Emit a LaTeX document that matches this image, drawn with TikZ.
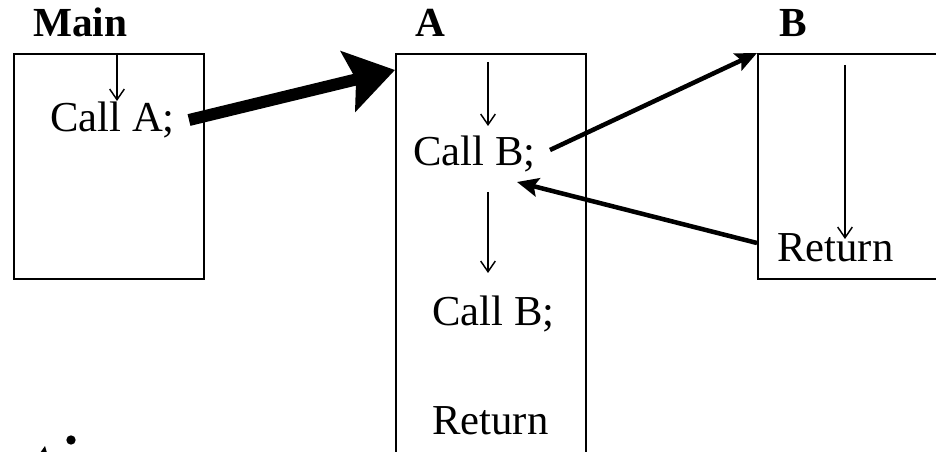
\documentclass[tikz,border=0pt]{standalone}
\usepackage{fontspec}
\setmainfont{Liberation Serif}
\usetikzlibrary{arrows.meta,calc}
\begin{document}
\begin{tikzpicture}[x=0.75pt,y=-0.75pt,
  box/.style={draw,line width=1.6pt,inner sep=0,anchor=north west,minimum width=142.5pt},
  txt/.style={inner sep=0,anchor=base west,font=\fontsize{32}{38}\selectfont},
  lbl/.style={inner sep=0,anchor=base west,font=\fontsize{31}{37}\selectfont\bfseries},
  thin/.style={line width=1.1pt,-{Straight Barb[length=8pt,width=11pt]}},
  mid/.style={line width=3.4pt,-{Stealth[length=16pt,width=14pt,inset=3pt]}},
  thick/.style={line width=9pt,-{Stealth[length=36pt,width=46pt,inset=6pt]}}]
\clip (0,0) rectangle (936,452);
\fill[white] (0,0) rectangle (936,452);
% boxes
\node[box,minimum height=168.75pt] (mainbox) at (13,53) {};
\node[box,minimum height=360pt] (abox) at (395,53) {};
\node[box,minimum width=160pt,minimum height=168.75pt] (bbox) at (757,53) {};
% labels
\node[lbl] (mainlbl) at (33,37) {Main};
\node[lbl] (albl) at (415,37) {A};
\node[lbl] (blbl) at (779,37) {B};
% texts
\node[txt] (calla) at (50,132) {Call A;};
\node[txt] (callb1) at (413,166) {Call B;};
\node[txt] (callb2) at (432,326) {Call B;};
\node[txt] (reta) at (432,435) {Return};
\node[txt] (retb) at (777,262) {Return};
% thin flow arrows
\coordinate (m1) at (117,53);
\coordinate (m2) at (117,101);
\draw[thin] (m1) -- (m2);
\coordinate (a1) at (488,62);
\coordinate (a2) at (488,126);
\draw[thin] (a1) -- (a2);
\coordinate (a3) at (488,192);
\coordinate (a4) at (488,273);
\draw[thin] (a3) -- (a4);
\coordinate (b1) at (845,65);
\coordinate (b2) at (845,239);
\draw[thin] (b1) -- (b2);
% call arrows
\coordinate (cas) at (189,120);
\coordinate (cae) at ($(abox.north west)+(0,17)$);
\draw[thick] (cas) -- (cae);
\coordinate (cbs) at (550,150);
\draw[mid] (cbs) -- (bbox.north west);
\coordinate (rbs) at (757,243);
\coordinate (rbe) at (517,182);
\draw[mid] (rbs) -- (rbe);
% cut-off text fragments at the bottom left
\fill (71,440) circle (3.5pt);
\fill (40,453) -- (45,446) -- (47,453) -- cycle;
\end{tikzpicture}
\end{document}
